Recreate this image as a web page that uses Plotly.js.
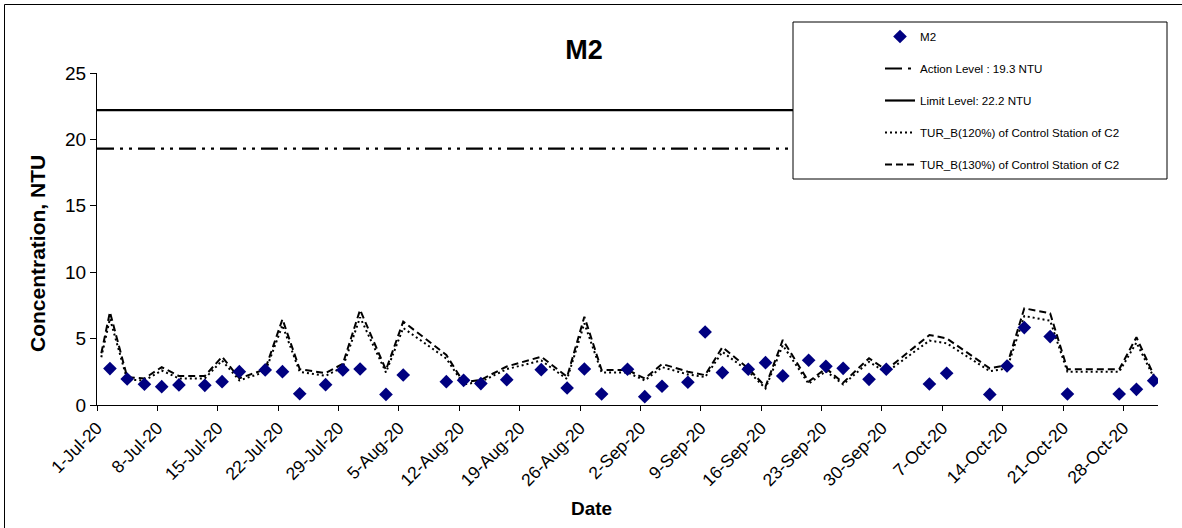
<!DOCTYPE html>
<html>
<head>
<meta charset="utf-8">
<script src="https://cdn.plot.ly/plotly-3.0.1.min.js"></script>
<style>
html, body { margin: 0; padding: 0; background: #ffffff; }
#chart { width: 1182px; height: 528px; }
</style>
</head>
<body>
<div id="chart"></div>
<script>
// ---- Data ----
const m2Dates = [
  '2020-07-02','2020-07-04','2020-07-06','2020-07-08','2020-07-10','2020-07-13','2020-07-15','2020-07-17',
  '2020-07-20','2020-07-22','2020-07-24','2020-07-27','2020-07-29','2020-07-31','2020-08-03','2020-08-05',
  '2020-08-10','2020-08-12','2020-08-14','2020-08-17','2020-08-21','2020-08-24','2020-08-26','2020-08-28',
  '2020-08-31','2020-09-02','2020-09-04','2020-09-07','2020-09-09','2020-09-11','2020-09-14','2020-09-16',
  '2020-09-18','2020-09-21','2020-09-23','2020-09-25','2020-09-28','2020-09-30','2020-10-05','2020-10-07',
  '2020-10-12','2020-10-14','2020-10-16','2020-10-19','2020-10-21','2020-10-27','2020-10-29','2020-10-31'
];
const m2Values = [
  2.74, 1.96, 1.56, 1.38, 1.51, 1.48, 1.76, 2.51,
  2.64, 2.51, 0.85, 1.53, 2.64, 2.71, 0.80, 2.26,
  1.76, 1.86, 1.61, 1.91, 2.66, 1.28, 2.71, 0.83,
  2.69, 0.63, 1.41, 1.71, 5.50, 2.44, 2.69, 3.19,
  2.19, 3.37, 2.91, 2.76, 1.93, 2.69, 1.58, 2.39,
  0.80, 2.94, 5.83, 5.15, 0.83, 0.83, 1.18, 1.83
];
const controlDates = [
  '2020-07-01','2020-07-02','2020-07-04','2020-07-06','2020-07-08','2020-07-10','2020-07-13','2020-07-15','2020-07-17',
  '2020-07-20','2020-07-22','2020-07-24','2020-07-27','2020-07-29','2020-07-31','2020-08-03','2020-08-05',
  '2020-08-10','2020-08-12','2020-08-14','2020-08-17','2020-08-21','2020-08-24','2020-08-26','2020-08-28',
  '2020-08-31','2020-09-02','2020-09-04','2020-09-07','2020-09-09','2020-09-11','2020-09-14','2020-09-16',
  '2020-09-18','2020-09-21','2020-09-23','2020-09-25','2020-09-28','2020-09-30','2020-10-05','2020-10-07',
  '2020-10-12','2020-10-14','2020-10-16','2020-10-19','2020-10-21','2020-10-27','2020-10-29','2020-10-31'
];
const tur120 = [
  3.60, 6.50, 1.90, 1.85, 2.60, 2.00, 2.00, 3.35, 1.85,
  2.50, 6.00, 2.50, 2.20, 2.85, 6.60, 2.45, 5.80,
  3.50, 1.55, 1.75, 2.70, 3.35, 1.95, 6.15, 2.45,
  2.45, 1.85, 2.85, 2.30, 2.10, 4.00, 2.55, 1.25,
  4.50, 1.60, 2.55, 1.55, 3.25, 2.45, 4.85, 4.65,
  2.55, 2.75, 6.70, 6.35, 2.50, 2.50, 4.70, 2.10
];
const tur130 = [
  3.90, 7.00, 2.10, 2.00, 2.85, 2.18, 2.18, 3.64, 2.01,
  2.69, 6.46, 2.70, 2.40, 3.10, 7.16, 2.64, 6.28,
  3.77, 1.70, 1.90, 2.90, 3.64, 2.13, 6.65, 2.64,
  2.64, 2.00, 3.09, 2.51, 2.25, 4.35, 2.76, 1.38,
  4.90, 1.76, 2.76, 1.68, 3.52, 2.64, 5.27, 5.02,
  2.76, 3.00, 7.28, 6.90, 2.69, 2.69, 5.10, 2.26
];
const actionLevel = 19.3;
const limitLevel = 22.2;
const levelDates = ['2020-07-01', '2020-11-01'];
const seriesNames = [
  'M2',
  'Action Level : 19.3 NTU',
  'Limit Level: 22.2 NTU',
  'TUR_B(120%) of Control Station of C2',
  'TUR_B(130%) of Control Station of C2'
];
const chartTitle = 'M2';
const xTitle = 'Date';
const yTitle = 'Concentration, NTU';

// ---- Layout geometry ----
const W = 1182, H = 528;
const M = { l: 97, r: 24, t: 73, b: 123 };
const pw = W - M.l - M.r, ph = H - M.t - M.b;
const px = v => (v - M.l) / pw;
const py = v => (H - M.b - v) / ph;
const FONT = 'Arial, "Liberation Sans", sans-serif';
const DAY = 86400000;

const traces = [
  {
    x: levelDates, y: [limitLevel, limitLevel], name: seriesNames[2], type: 'scatter', mode: 'lines',
    line: { color: '#000000', width: 2.2 }, legendgroup: 'g3', legendrank: 3, hoverinfo: 'skip'
  },
  {
    x: levelDates, y: [actionLevel, actionLevel], name: seriesNames[1], type: 'scatter', mode: 'lines',
    line: { color: '#000000', width: 2.2, dash: '17px,6px,3px,6px,3px,6px' }, legendgroup: 'g2', legendrank: 2, hoverinfo: 'skip'
  },
  {
    x: controlDates, y: tur120, name: seriesNames[3], type: 'scatter', mode: 'lines',
    xperiod: DAY, xperiodalignment: 'middle',
    line: { color: '#000000', width: 2, dash: '2px,3px' }, legendgroup: 'g4', legendrank: 4
  },
  {
    x: controlDates, y: tur130, name: seriesNames[4], type: 'scatter', mode: 'lines',
    xperiod: DAY, xperiodalignment: 'middle',
    line: { color: '#000000', width: 2, dash: '7px,4px' }, legendgroup: 'g5', legendrank: 5
  },
  {
    x: m2Dates, y: m2Values, name: seriesNames[0], type: 'scatter', mode: 'markers',
    xperiod: DAY, xperiodalignment: 'middle',
    marker: { symbol: 'diamond', size: 10.5, color: '#000080', line: { width: 0 } },
    legendgroup: 'g1', legendrank: 1
  }
];

const layout = {
  width: W, height: H,
  margin: M,
  paper_bgcolor: '#ffffff', plot_bgcolor: '#ffffff',
  font: { family: FONT, color: '#000000' },
  showlegend: true,
  title: {
    text: '<b>' + chartTitle + '</b>', font: { family: FONT, size: 27, color: '#000000' },
    xref: 'paper', x: px(584), xanchor: 'center', yref: 'container', y: 1 - 50 / H, yanchor: 'middle'
  },
  xaxis: {
    type: 'date', range: levelDates, tick0: levelDates[0], dtick: 7 * DAY,
    tickformat: '%-d-%b-%y', tickangle: -45, ticks: 'outside', ticklen: 5, tickcolor: '#000000',
    tickfont: { family: FONT, size: 17.5, color: '#000000' },
    showline: true, linecolor: '#000000', linewidth: 1, showgrid: false, zeroline: false, fixedrange: true
  },
  yaxis: {
    range: [0, 25], tick0: 0, dtick: 5, ticks: 'outside', ticklen: 6, tickcolor: '#000000',
    tickfont: { family: FONT, size: 19, color: '#000000' },
    showline: true, linecolor: '#000000', linewidth: 1, showgrid: false, zeroline: false, fixedrange: true
  },
  legend: {
    x: px(880), xanchor: 'left', y: py(22), yanchor: 'top',
    bgcolor: 'rgba(255,255,255,0)', borderwidth: 0,
    font: { family: FONT, size: 11.6, color: '#000000' },
    traceorder: 'grouped', tracegroupgap: 13, itemwidth: 30
  },
  annotations: [
    { text: '<b>' + xTitle + '</b>', xref: 'paper', yref: 'paper', x: px(591), y: py(509),
      xanchor: 'center', yanchor: 'middle', showarrow: false, font: { family: FONT, size: 19, color: '#000000' } },
    { text: '<b>' + yTitle + '</b>', xref: 'paper', yref: 'paper', x: px(37), y: py(254),
      xanchor: 'center', yanchor: 'middle', textangle: -90, showarrow: false, font: { family: FONT, size: 21, color: '#000000' } }
  ],
  shapes: [
    // chart-area frame (left and top edges visible in the reference)
    { type: 'line', xref: 'paper', yref: 'paper', x0: px(4.5), x1: px(4.5), y0: py(4.5), y1: py(H + 5), line: { color: '#000000', width: 1 } },
    { type: 'line', xref: 'paper', yref: 'paper', x0: px(4.5), x1: px(W + 5), y0: py(4.5), y1: py(4.5), line: { color: '#000000', width: 1 } },
    // legend box
    { type: 'rect', xref: 'paper', yref: 'paper', x0: px(793), x1: px(1167), y0: py(22), y1: py(179),
      fillcolor: '#ffffff', line: { color: '#000000', width: 1 }, layer: 'above' }
  ]
};

Plotly.newPlot('chart', traces, layout, { displayModeBar: false, staticPlot: true });
</script>
</body>
</html>
